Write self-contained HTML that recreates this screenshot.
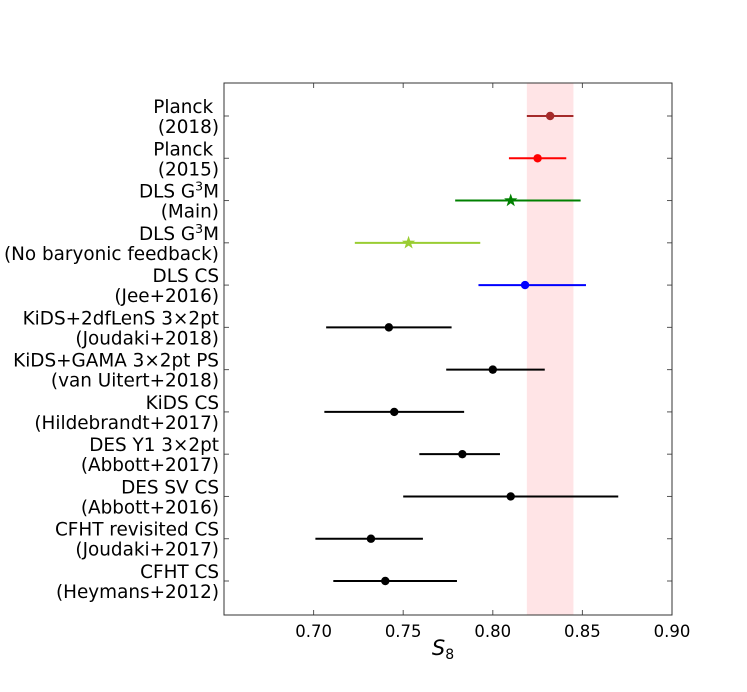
<!DOCTYPE html>
<html><head><meta charset="utf-8"><style>
body{margin:0;background:#fff}
svg{display:block;font-family:"DejaVu Sans","Liberation Sans",sans-serif}
</style></head><body>
<svg id="chart" width="747" height="692">
</svg>
<script>
const labels1=["Planck ","Planck ","DLS G³M","DLS G³M","DLS CS","KiDS+2dfLenS 3×2pt","KiDS+GAMA 3×2pt PS","KiDS CS","DES Y1 3×2pt","DES SV CS","CFHT revisited CS","CFHT CS"];
const labels2=["(2018)","(2015)","(Main)","(No baryonic feedback)","(Jee+2016)","(Joudaki+2018)","(van Uitert+2018)","(Hildebrandt+2017)","(Abbott+2017)","(Abbott+2016)","(Joudaki+2017)","(Heymans+2012)"];
const centers=[0.832,0.825,0.810,0.753,0.818,0.742,0.800,0.745,0.783,0.810,0.732,0.740];
const lowers=[0.819,0.809,0.779,0.723,0.792,0.707,0.774,0.706,0.759,0.750,0.701,0.711];
const uppers=[0.845,0.841,0.849,0.793,0.852,0.777,0.829,0.784,0.804,0.870,0.761,0.780];
const colors=["#a52a2a","#ff0000","#008000","#9acd32","#0000ff","#000","#000","#000","#000","#000","#000","#000"];
const markers=["o","o","*","*","o","o","o","o","o","o","o","o"];
const xTicks=[0.70,0.75,0.80,0.85,0.90];
const band=[0.819,0.845];

const NS="http://www.w3.org/2000/svg";
const svg=document.getElementById('chart');
const L=224,R=672,T=83,B=615,x0=0.65,x1=0.90;
const X=v=>L+(v-x0)/(x1-x0)*(R-L);
const Y=i=>116+i*(581-116)/11;
function mk(tag,attrs,parent){const e=document.createElementNS(NS,tag);for(const k in attrs)e.setAttribute(k,attrs[k]);(parent||svg).appendChild(e);return e;}
let r=mk('rect',{x:X(band[0]),y:T,width:X(band[1])-X(band[0]),height:B-T,fill:'#ffe4e6'});


centers.forEach((c,i)=>{
  const g=mk('g',{});
  
  
  mk('line',{x1:X(lowers[i]),x2:X(uppers[i]),y1:Y(i),y2:Y(i),stroke:colors[i],'stroke-width':2},g);
  if(markers[i]==='o') mk('circle',{cx:X(c),cy:Y(i),r:4.2,fill:colors[i]},g);
  else{
    let p=[];for(let k=0;k<10;k++){const a=-Math.PI/2+k*Math.PI/5,rr=k%2?2.8:7;p.push((X(c)+rr*Math.cos(a)).toFixed(1)+','+(Y(i)+rr*Math.sin(a)).toFixed(1));}
    mk('polygon',{points:p.join(' '),fill:colors[i]},g);
  }
  mk('line',{x1:L,x2:L+5,y1:Y(i),y2:Y(i),stroke:'#555'});
  mk('line',{x1:R-5,x2:R,y1:Y(i),y2:Y(i),stroke:'#555'});
  const t1=mk('text',{x:219,y:Y(i)-3,'text-anchor':'end','font-size':18.4,fill:'#000'});
  
  
  if(labels1[i].includes('³')){t1.textContent='DLS G';const s=mk('tspan',{'font-size':12.5,dy:-7},t1);s.textContent='3';const m=mk('tspan',{dy:7},t1);m.textContent='M';}
  else t1.textContent=labels1[i].replace(/ $/,'\u00a0');
  const t2=mk('text',{x:219,y:Y(i)+17,'text-anchor':'end','font-size':18.4,fill:'#000'});
  t2.textContent=labels2[i];
});
xTicks.forEach(v=>{
  mk('line',{x1:X(v),x2:X(v),y1:B,y2:B-5,stroke:'#555'});
  mk('line',{x1:X(v),x2:X(v),y1:T,y2:T+5,stroke:'#555'});
  const t=mk('text',{x:X(v),y:B+22,'text-anchor':'middle','font-size':16.5,fill:'#000'});
  
  
  t.textContent=v.toFixed(2);
});
let f=mk('rect',{x:L,y:T,width:R-L,height:B-T,fill:'none',stroke:'#333','stroke-width':1});


const xt=mk('text',{x:443,y:655,'text-anchor':'middle','font-size':21,'font-style':'italic',fill:'#000'});


xt.textContent='S';
const sub=mk('tspan',{'font-size':14,'font-style':'normal',dy:4},xt);sub.textContent='8';
</script>
</body></html>
